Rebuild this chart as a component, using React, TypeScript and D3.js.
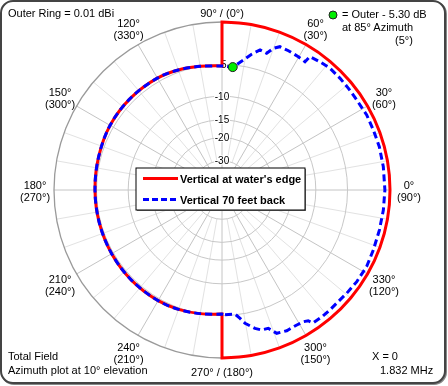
import React from "react";
import * as d3 from "d3";

const W = 448;
const H = 386;
const CX = 222;
const CY = 190;
const R = 168;

// grid: ARRL log rings (dB below outer ring) and azimuth spokes
const ringDb = [-5, -10, -15, -20, -30];
const azMajor = [0, 30, 60, 90, 120, 150, 180, 210, 240, 270, 300, 330];
const azMinor = d3.range(0, 360, 10).filter((a) => a % 30 !== 0);

// "Vertical at water's edge" - seaward half rides on the outer ring
const redSeaAz = [-90, -80, -70, -60, -50, -40, -30, -20, -10, 0, 10, 20, 30, 40, 50, 60, 70, 80, 90];
const redSeaDb = [0, 0, 0, 0, 0, 0, 0, 0, 0, 0, 0, 0, 0, 0, 0, 0, 0, 0, 0];

// landward half, the two traces lie on top of each other here
const landAz = [90, 100, 110, 120, 135, 150, 165, 180, 195, 210, 225, 240, 250, 260, 270];
const landDb = [-5.2, -5.0, -4.7, -4.5, -4.45, -4.5, -4.7, -4.8, -4.8, -4.75, -4.7, -4.7, -4.8, -5.0, -5.2];

// "Vertical 70 feet back" - seaward half
const blueSeaAz = [
  -88.6, -84, -82, -80.2, -76.6, -74.2, -71.5, -69.1, -65.3, -61, -58.3, -56.6, -55.6, -51.4,
  -47.6, -44.2, -39.6, -34.2, -27.9, -21.6, -14.3, -7.1, 0, 8.2, 15.4, 21.6, 27.4, 33.7, 38.8,
  43.4, 48.4, 52.6, 56.6, 57.1, 60.2, 64.5, 68, 70.1, 71.9, 74.8, 77.7, 80.7, 85,
];
const blueSeaDb = [
  -5.1, -5.1, -4.45, -3.72, -2.86, -2.47, -2.43, -1.56, -1.39, -1.46, -1.4, -1.21, -0.72, -0.68,
  -0.7, -0.72, -0.63, -0.52, -0.45, -0.54, -0.58, -0.56, -0.53, -0.52, -0.5, -0.54, -0.52, -0.62,
  -0.6, -0.57, -0.55, -0.69, -0.87, -1.63, -1.54, -1.46, -1.43, -1.87, -2.67, -2.51, -3.26, -4.18,
  -5.3,
];

// cursor marker
const markerAz = 85;
const markerDb = -5.3;

const FONT = "'Liberation Sans', Arial, sans-serif";

type Pt = { az: number; db: number };
const zip = (az: number[], db: number[]): Pt[] => az.map((a, i) => ({ az: a, db: db[i] }));

// ARRL log scale: radius shrinks by 0.89 for every 2 dB
const logR = d3.scaleLinear().domain([0, -2]).range([Math.log(R), Math.log(R * 0.89)]);
const rScale = (db: number) => Math.exp(logR(db));
const toRad = (az: number) => ((90 - az) * Math.PI) / 180;

const radial = (curve: d3.CurveFactory) =>
  d3
    .lineRadial<Pt>()
    .angle((d) => toRad(d.az))
    .radius((d) => rScale(d.db))
    .curve(curve);

const smooth = radial(d3.curveCatmullRom.alpha(0.5));
const straight = radial(d3.curveLinear);

// glue open pieces into one closed trace, keeping sharp corners at the joins
const joinPaths = (parts: (string | null)[]) =>
  parts.map((p, i) => (i === 0 ? p || "" : (p || "").replace(/^M/, "L"))).join("") + "Z";

const compass = (az: number) => (450 - az) % 360;

export default function App() {
  const land = zip(landAz, landDb);
  const redPath = joinPaths([smooth(zip(redSeaAz, redSeaDb)), smooth(land)]);
  const bluePath = joinPaths([straight(zip(blueSeaAz, blueSeaDb)), smooth(land)]);
  const [mx, my] = d3.pointRadial(toRad(markerAz), rScale(markerDb));

  return (
    <svg
      width={W}
      height={H}
      style={{ position: "fixed", left: 0, top: 0, fontFamily: FONT }}
    >
      <rect x={2} y={2} width={444} height={382} rx={12} fill="none" stroke="#888" strokeWidth={2} />
      <rect x={1} y={1} width={444} height={382} rx={12} fill="#fff" stroke="#444" strokeWidth={2} />

      <g transform={`translate(${CX},${CY})`}>
        {azMinor.map((a) => {
          const [x1, y1] = d3.pointRadial(toRad(a), rScale(-30));
          const [x2, y2] = d3.pointRadial(toRad(a), R);
          return <line key={"m" + a} x1={x1} y1={y1} x2={x2} y2={y2} stroke="#e2e2e2" strokeWidth={1} />;
        })}
        {azMajor.map((a) => {
          const [x2, y2] = d3.pointRadial(toRad(a), R);
          return <line key={"M" + a} x1={0} y1={0} x2={x2} y2={y2} stroke="#c4c4c4" strokeWidth={1} />;
        })}
        {ringDb.map((db) => (
          <circle key={db} r={rScale(db)} fill="none" stroke="#c8c8c8" strokeWidth={1} />
        ))}
        <circle r={R} fill="none" stroke="#9a9a9a" strokeWidth={1.3} />

        {ringDb.map((db) => (
          <text
            key={"t" + db}
            x={0}
            y={-rScale(db)}
            textAnchor="middle"
            dominantBaseline="central"
            fontSize={10}
            fill="#000"
            stroke="#fff"
            strokeWidth={2}
            paintOrder="stroke"
          >
            {db}
          </text>
        ))}

        <path d={redPath} fill="none" stroke="#ff0000" strokeWidth={3} />
        <path d={bluePath} fill="none" stroke="#0000ff" strokeWidth={3} strokeDasharray="7,4" />
        <circle cx={mx} cy={my} r={4.5} fill="#00ee00" stroke="#222" strokeWidth={1} />

        {azMajor.map((a) => {
          if (a === 90 || a === 270) return null;
          const [x, y] = d3.pointRadial(toRad(a), 187);
          return (
            <text key={"az" + a} x={x} y={y} textAnchor="middle" fontSize={11} fill="#000">
              <tspan x={x} y={y - 1}>{`${a}°`}</tspan>
              <tspan x={x} y={y + 11}>{`(${compass(a)}°)`}</tspan>
            </text>
          );
        })}
      </g>

      <text x={CX} y={17} textAnchor="middle" fontSize={11}>{`90° / (${compass(90)}°)`}</text>
      <text x={CX} y={376} textAnchor="middle" fontSize={11}>{`270° / (${compass(270)}°)`}</text>

      <text x={8} y={17} fontSize={11}>Outer Ring = 0.01 dBi</text>

      <circle cx={333} cy={15} r={4} fill="#00ee00" stroke="#222" strokeWidth={1} />
      <text x={342} y={18} fontSize={11}>= Outer - 5.30 dB</text>
      <text x={342} y={31} fontSize={11}>at 85° Azimuth</text>
      <text x={395} y={44} fontSize={11}>(5°)</text>

      <text x={8} y={360} fontSize={11}>Total Field</text>
      <text x={8} y={374} fontSize={11}>Azimuth plot at 10° elevation</text>
      <text x={372} y={360} fontSize={11}>X = 0</text>
      <text x={380} y={374} fontSize={11}>1.832 MHz</text>

      <g>
        <rect x={137} y={169} width={169} height={42} fill="#777" />
        <rect x={136} y={168} width={169} height={42} fill="#fff" stroke="#000" strokeWidth={1} />
        <line x1={143} y1={178.5} x2={178} y2={178.5} stroke="#ff0000" strokeWidth={3} />
        <line x1={143} y1={199.5} x2={178} y2={199.5} stroke="#0000ff" strokeWidth={3} strokeDasharray="6,3" />
        <text x={180} y={182.5} fontSize={11} fontWeight="bold">Vertical at water's edge</text>
        <text x={180} y={203.5} fontSize={11} fontWeight="bold">Vertical 70 feet back</text>
      </g>
    </svg>
  );
}
